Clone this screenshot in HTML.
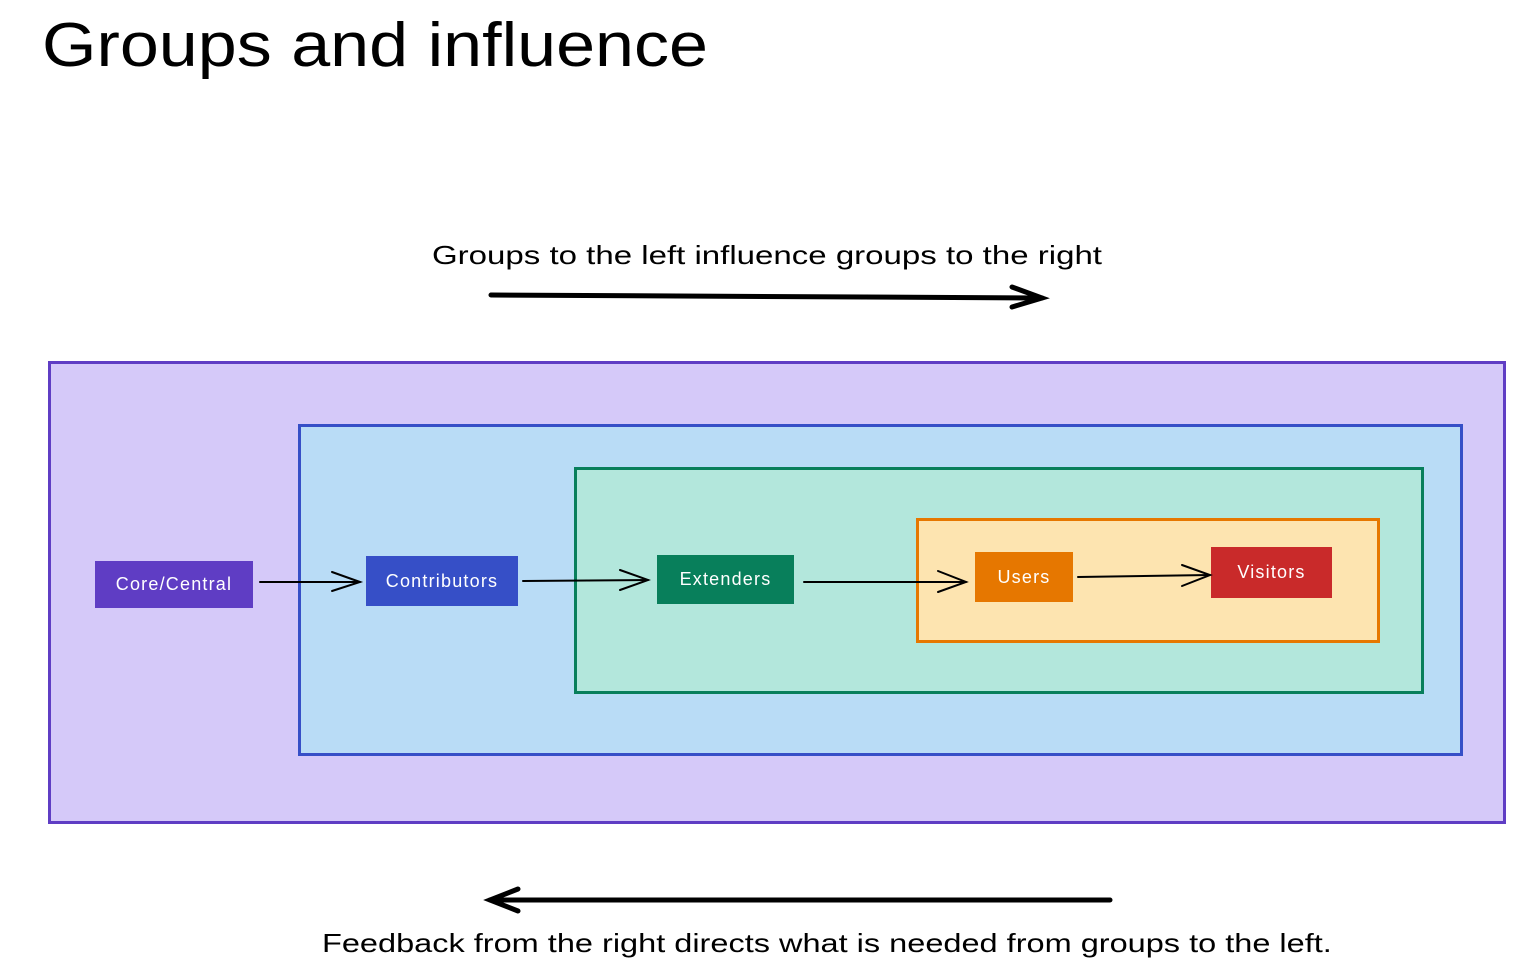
<!DOCTYPE html>
<html><head><meta charset="utf-8"><style>
body{margin:0;width:1513px;height:973px;background:#fff;position:relative;overflow:hidden;font-family:"Liberation Sans",sans-serif}
.b{position:absolute;box-sizing:border-box}
.n{position:absolute;box-sizing:border-box;color:#fff;font-size:18px;letter-spacing:1.2px;display:flex;align-items:center;justify-content:center}
.t{position:absolute;white-space:nowrap;color:#000;transform-origin:0 0}
</style></head><body>
<div class="t" style="left:42px;top:10px;font-size:62px;transform:scaleX(1.13)">Groups and influence</div>
<div class="t" style="left:432px;top:240px;font-size:26px;transform:scaleX(1.27)">Groups to the left influence groups to the right</div>
<div class="t" style="left:322px;top:928px;font-size:26px;transform:scaleX(1.25)">Feedback from the right directs what is needed from groups to the left.</div>

<div class="b" style="left:48px;top:361px;width:1458px;height:463px;background:#d5c9f9;border:3px solid #5f3dc4"></div>
<div class="b" style="left:298px;top:424px;width:1165px;height:332px;background:#b9dcf6;border:3px solid #364fc7"></div>
<div class="b" style="left:574px;top:467px;width:850px;height:227px;background:#b3e7dc;border:3px solid #087f5b"></div>
<div class="b" style="left:916px;top:518px;width:464px;height:125px;background:#fde4b0;border:3px solid #e67700"></div>

<div class="n" style="left:95px;top:561px;width:158px;height:47px;background:#5f3dc4">Core/Central</div>
<div class="n" style="left:366px;top:556px;width:152px;height:50px;background:#364fc7">Contributors</div>
<div class="n" style="left:657px;top:555px;width:137px;height:49px;background:#087f5b">Extenders</div>
<div class="n" style="left:975px;top:552px;width:98px;height:50px;background:#e67700">Users</div>
<div class="n" style="left:1211px;top:547px;width:121px;height:51px;background:#c92a2a">Visitors</div>

<svg width="1513" height="973" style="position:absolute;left:0;top:0" fill="none" stroke="#000" stroke-linecap="round">
<g stroke-width="5"><path d="M491 295 L1042 298"/><path d="M1012 287 L1042 298 L1012 307"/>
<path d="M1110 900 L490 900"/><path d="M518 889 L490 900 L518 911"/></g>
<g stroke-width="2"><path d="M260 582 L360 582"/><path d="M332 572 L360 582 L332 591"/>
<path d="M523 581 L648 580"/><path d="M620 570 L648 580 L620 590"/>
<path d="M804 582 L966 582"/><path d="M938 571 L966 582 L938 592"/>
<path d="M1078 577 L1210 575"/><path d="M1182 565 L1210 575 L1182 586"/></g>
</svg>
</body></html>
